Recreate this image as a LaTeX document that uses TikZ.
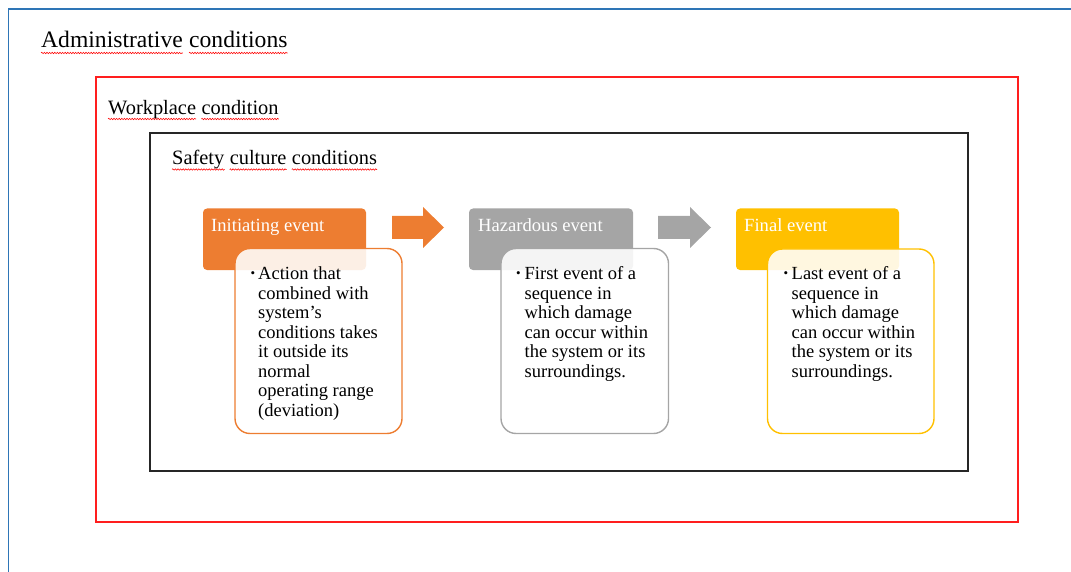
\documentclass[tikz,border=0pt]{standalone}
\usepackage{fontspec}
\setmainfont{Liberation Serif}
\usetikzlibrary{decorations.pathmorphing,calc}

\definecolor{frameblue}{RGB}{46,117,182}
\definecolor{framered}{RGB}{255,30,30}
\definecolor{evorange}{RGB}{237,125,49}
\definecolor{evgray}{RGB}{165,165,165}
\definecolor{evgold}{RGB}{255,192,0}

\tikzset{
  word/.style={anchor=base west, inner sep=0pt},
  spell/.style={draw=red, line width=0.55pt, decorate,
    decoration={snake, amplitude=0.7pt, segment length=2.6pt}},
  headbox/.style={rounded corners=4pt},
  notebox/.style={rounded corners=15pt, line width=1.4pt, fill=white, fill opacity=0.88},
  headtext/.style={anchor=base west, inner sep=0pt, text=white,
    font=\fontsize{18.6}{22}\selectfont},
  bodytext/.style={anchor=north west, inner sep=0pt, align=left,
    font=\fontsize{18.5}{19.55}\selectfont},
  bullet/.style={anchor=base west, inner sep=0pt, font=\fontsize{13}{13}\selectfont},
  blockarrow/.style={draw=none},
}

% underline a word node with a wavy spell-check line
\newcommand\squig[2]{\draw[spell] ($(#1.base west)+(0,#2)$) -- ($(#1.base east)+(0,#2)$);}

\begin{document}
\begin{tikzpicture}[x=1pt,y=-1pt]
\useasboundingbox (0,0) rectangle (1071,572);

% nested condition frames
\draw[frameblue, line width=1.6pt] (8.5,572) -- (8.5,9) -- (1071,9);
\draw[framered, line width=1.3pt] (96,77) rectangle (1018,522);
\draw[black!85, line width=1.2pt] (150,133) rectangle (968,471);

% frame titles
\begin{scope}[font=\fontsize{23.6}{26}\selectfont]
  \node[word] (adA) at (41,48) {Administrative};
  \node[word] (adB) at ($(adA.base east)+(6,0)$) {conditions};
\end{scope}
\squig{adA}{5}\squig{adB}{5}

\begin{scope}[font=\fontsize{20.4}{24}\selectfont]
  \node[word] (wpA) at (108,114.5) {Workplace};
  \node[word] (wpB) at ($(wpA.base east)+(5.1,0)$) {condition};
  \node[word] (scA) at (172,165) {Safety};
  \node[word] (scB) at ($(scA.base east)+(5.1,0)$) {culture};
  \node[word] (scC) at ($(scB.base east)+(5.1,0)$) {conditions};
\end{scope}
\squig{wpA}{4.5}\squig{wpB}{4.5}
\squig{scA}{4.5}\squig{scB}{4.5}\squig{scC}{4.5}

% event headers
\fill[evorange, headbox] (203,208.5) rectangle (366,270) coordinate (h1);
\node[headtext] (t1) at (211,232) {Initiating event};
\fill[evgray, headbox] (469,208.5) rectangle (633,270) coordinate (h2);
\node[headtext] (t2) at (478,232) {Hazardous event};
\fill[evgold, headbox] (736,208.5) rectangle (899,270) coordinate (h3);
\node[headtext] (t3) at (744,232) {Final event};

% block arrows between the headers
\fill[evorange, blockarrow] (392,216) -- (423,216) -- (423,207) -- (444,227.5)
  -- (423,248) -- (423,239) -- (392,239) -- cycle;
\fill[evgray, blockarrow] (658,216) -- (690,216) -- (690,207) -- (711,227.5)
  -- (690,248) -- (690,239) -- (658,239) -- cycle;

% description cards
\draw[notebox, draw=evorange] (235,248.5) rectangle (402,433.5);
\draw[notebox, draw=evgray] (501,248.5) rectangle (668.5,433.5);
\draw[notebox, draw=evgold] (767.5,249) rectangle (934,433.5);

\node[bullet] (b1) at (250.5,277) {•};
\node[bodytext] (d1) at (258,266.5) {Action that\\combined with\\system’s\\conditions takes\\it outside its\\normal\\operating range\\(deviation)};
\node[bullet] (b2) at (516,277) {•};
\node[bodytext] (d2) at (524.5,266.5) {First event of a\\sequence in\\which damage\\can occur within\\the system or its\\surroundings.};
\node[bullet] (b3) at (783.5,277) {•};
\node[bodytext] (d3) at (791.5,266.5) {Last event of a\\sequence in\\which damage\\can occur within\\the system or its\\surroundings.};
\end{tikzpicture}
\end{document}
